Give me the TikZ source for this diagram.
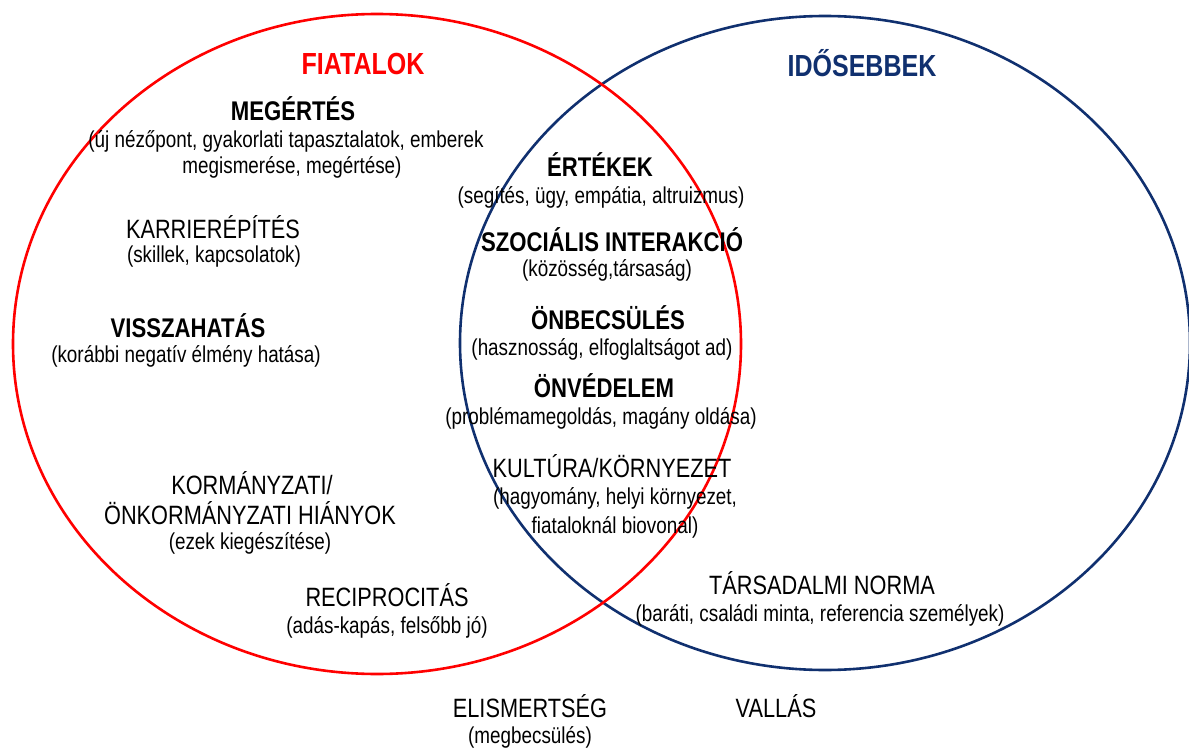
\documentclass[tikz,border=0pt]{standalone}
\usepackage{fontspec}
\setmainfont{Liberation Sans}[FakeStretch=0.82]
\definecolor{youngred}{HTML}{FF0000}
\definecolor{oldblue}{HTML}{10306F}

\begin{document}
\begin{tikzpicture}[x=1pt, y=-1pt,
        title/.style = {font=\fontsize{30.5}{34}\selectfont\bfseries, anchor=base},
        head/.style = {font=\fontsize{27}{30}\selectfont\bfseries, anchor=base},
        item/.style = {font=\fontsize{26.5}{30}\selectfont, anchor=base},
        note/.style = {font=\fontsize{23}{26}\selectfont, anchor=base}]
        \useasboundingbox (0,0) rectangle (1189,749);
        \draw[oldblue, line width=2.6pt] (825,343) ellipse [x radius=365, y radius=327];
        \draw[youngred, line width=2.6pt] (377,344) ellipse [x radius=364, y radius=330];

        \node[title, youngred] (fiatalok) at (363,75) {FIATALOK};
        \node[title, oldblue] (idosebbek) at (862,77) {IDŐSEBBEK};

        \node[head] (megertes) at (293,121) {MEGÉRTÉS};
        \node[note] (megertes1) at (286,148) {(új nézőpont, gyakorlati tapasztalatok, emberek};
        \node[note] (megertes2) at (292,174) {megismerése, megértése)};

        \node[item] (karrier) at (213,238) {KARRIERÉPÍTÉS};
        \node[note] (karrier1) at (214,262) {(skillek, kapcsolatok)};

        \node[head] (vissza) at (188,337) {VISSZAHATÁS};
        \node[note] (vissza1) at (186,362) {(korábbi negatív élmény hatása)};

        \node[item] (korm) at (252,494) {KORMÁNYZATI/};
        \node[item] (korm1) at (250,524) {ÖNKORMÁNYZATI HIÁNYOK};
        \node[note] (korm2) at (250,549) {(ezek kiegészítése)};

        \node[item] (recip) at (387,606) {RECIPROCITÁS};
        \node[note] (recip1) at (387,633) {(adás-kapás, felsőbb jó)};

        % közös rész
        \node[head] (ertekek) at (600,177) {ÉRTÉKEK};
        \node[note] (ertekek1) at (601,203) {(segítés, ügy, empátia, altruizmus)};

        \node[head] (szoc) at (612,251) {SZOCIÁLIS INTERAKCIÓ};
        \node[note] (szoc1) at (607,276) {(közösség,társaság)};

        \node[head] (onbecs) at (608,329) {ÖNBECSÜLÉS};
        \node[note] (onbecs1) at (602,355) {(hasznosság, elfoglaltságot ad)};

        \node[head] (onved) at (604,397) {ÖNVÉDELEM};
        \node[note] (onved1) at (601,424) {(problémamegoldás, magány oldása)};

        \node[item] (kultura) at (612,477) {KULTÚRA/KÖRNYEZET};
        \node[note] (kultura1) at (615,504) {(hagyomány, helyi környezet,};
        \node[note] (kultura2) at (615,533) {fiataloknál biovonal)};

        \node[item] (norma) at (822,594) {TÁRSADALMI NORMA};
        \node[note] (norma1) at (820,621) {(baráti, családi minta, referencia személyek)};

        % kívül
        \node[item] (elism) at (530,717) {ELISMERTSÉG};
        \node[note] (elism1) at (530,743) {(megbecsülés)};
        \node[item] (vallas) at (776,717) {VALLÁS};
\end{tikzpicture}
\end{document}
